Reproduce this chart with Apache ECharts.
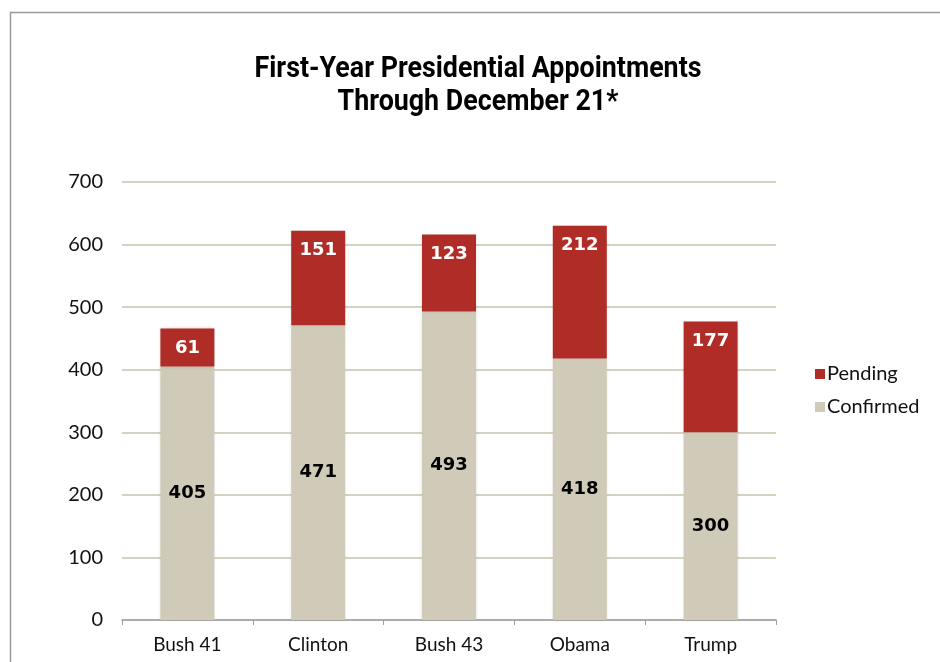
<!DOCTYPE html>
<html>
<head>
<meta charset="utf-8">
<script src="https://cdn.jsdelivr.net/npm/echarts@6/dist/echarts.min.js"></script>
<style>
  html, body { margin: 0; padding: 0; background: #fff; }
  #chart { width: 940px; height: 662px; }
</style>
</head>
<body>
<div id="chart"></div>
<script>
// Presidential appointments in the first year, counted through December 21
const presidents = ['Bush 41', 'Clinton', 'Bush 43', 'Obama', 'Trump'];
const confirmed = [405, 471, 493, 418, 300];
const pending = [61, 151, 123, 212, 177];
const yTicks = [0, 100, 200, 300, 400, 500, 600, 700];
const titleLines = ['First-Year Presidential Appointments', 'Through December 21*'];

const TITLE_FONT = "bold 29px Roboto, 'Liberation Sans', sans-serif";
const BODY = "'Lato', 'Noto Sans', sans-serif";

// Condensed look for the heading: squeeze the text horizontally to a set width
const ctx = document.createElement('canvas').getContext('2d');
ctx.font = TITLE_FONT;
const titleScale = 447 / ctx.measureText(titleLines[0]).width;

const chart = echarts.init(document.getElementById('chart'), null, { renderer: 'canvas' });

chart.setOption({
  backgroundColor: '#ffffff',
  animation: false,
  graphic: [
    {
      type: 'rect',
      shape: { x: 10.5, y: 12.5, width: 1000, height: 1000 },
      style: { fill: 'none', stroke: '#9a9a9a', lineWidth: 1.5 },
      silent: true,
      z: -1
    },
    {
      type: 'text',
      x: 478, y: 70,
      scaleX: titleScale,
      style: { text: titleLines[0], font: TITLE_FONT, fill: '#000', align: 'center', verticalAlign: 'middle' }
    },
    {
      type: 'text',
      x: 478, y: 103,
      scaleX: titleScale,
      style: { text: titleLines[1], font: TITLE_FONT, fill: '#000', align: 'center', verticalAlign: 'middle' }
    }
  ],
  legend: {
    orient: 'vertical',
    left: 810,
    top: 359,
    itemWidth: 10,
    itemHeight: 10,
    itemGap: 13,
    icon: 'rect',
    data: ['Pending', 'Confirmed'],
    textStyle: { fontFamily: BODY, fontSize: 20, color: '#111', padding: [0, 0, 0, -3] }
  },
  grid: { left: 122, right: 164, top: 182, bottom: 42 },
  xAxis: {
    type: 'category',
    data: presidents,
    axisLine: { lineStyle: { color: '#a0a0a0', width: 1.5 } },
    axisTick: { show: true, length: 5, alignWithLabel: false, lineStyle: { color: '#a0a0a0' } },
    axisLabel: { fontFamily: BODY, fontSize: 19, color: '#111', margin: 15 }
  },
  yAxis: {
    type: 'value',
    min: yTicks[0],
    max: yTicks[yTicks.length - 1],
    interval: 100,
    axisLine: { show: false },
    axisTick: { show: false },
    axisLabel: { fontFamily: BODY, fontSize: 20, color: '#111', margin: 19 },
    splitLine: { lineStyle: { color: '#d6d2c0', width: 2 } }
  },
  series: [
    {
      name: 'Confirmed',
      type: 'bar',
      stack: 'total',
      barWidth: 54,
      data: confirmed,
      itemStyle: { color: '#d0cbb9', shadowColor: 'rgba(0,0,0,0.15)', shadowBlur: 3 },
      label: {
        show: true,
        position: 'inside',
        fontFamily: "'DejaVu Sans', sans-serif",
        fontWeight: 'bold',
        fontSize: 18,
        color: '#000'
      }
    },
    {
      name: 'Pending',
      type: 'bar',
      stack: 'total',
      barWidth: 54,
      data: pending,
      itemStyle: { color: '#b02c26', shadowColor: 'rgba(0,0,0,0.15)', shadowBlur: 3 },
      label: {
        show: true,
        position: 'insideTop',
        distance: 11,
        fontFamily: "'DejaVu Sans', sans-serif",
        fontWeight: 'bold',
        fontSize: 18,
        color: '#fff'
      }
    }
  ]
});
</script>
</body>
</html>
